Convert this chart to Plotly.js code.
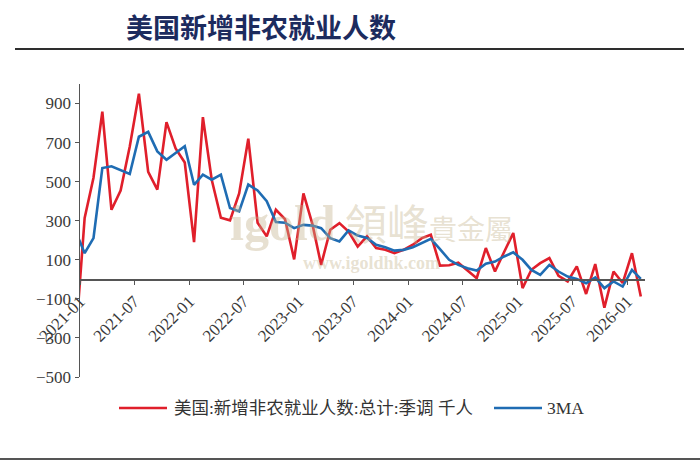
<!DOCTYPE html>
<html>
<head>
<meta charset="utf-8">
<script src="https://cdn.plot.ly/plotly-3.0.1.min.js"></script>
<style>
  html, body { margin: 0; padding: 0; background: #ffffff; }
  #chart { width: 700px; height: 468px; }
</style>
</head>
<body>
<div id="chart"></div>
<script>
// Months (points sit in the middle of each month, like the source chart)
const months = [
  '2020-12',
  '2021-01','2021-02','2021-03','2021-04','2021-05','2021-06','2021-07','2021-08','2021-09','2021-10','2021-11','2021-12',
  '2022-01','2022-02','2022-03','2022-04','2022-05','2022-06','2022-07','2022-08','2022-09','2022-10','2022-11','2022-12',
  '2023-01','2023-02','2023-03','2023-04','2023-05','2023-06','2023-07','2023-08','2023-09','2023-10','2023-11','2023-12',
  '2024-01','2024-02','2024-03','2024-04','2024-05','2024-06','2024-07','2024-08','2024-09','2024-10','2024-11','2024-12',
  '2025-01','2025-02','2025-03','2025-04','2025-05','2025-06','2025-07','2025-08','2025-09','2025-10','2025-11','2025-12',
  '2026-01','2026-02'
];

// 美国:新增非农就业人数:总计:季调 (千人)
const payrolls = [
  -330,
  314, 520, 858, 356, 455, 680, 950, 550, 459, 805, 670, 598,
  190, 830, 510, 315, 302, 440, 720, 290, 220, 356, 308, 102,
  440, 285, 74, 254, 288, 245, 168, 220, 160, 151, 134, 151,
  177, 211, 228, 70, 72, 85, 45, 6, 160, 40, 140, 237,
  -45, 49, 83, 109, 18, -11, 66, -75, 78, -145, 40, -19,
  134, -88
];

// 3MA
const ma3 = [
  250,
  134, 211, 570, 579, 561, 539, 730, 755, 655, 612, 647, 681,
  484, 536, 510, 536, 365, 348, 485, 455, 400, 293, 290, 262,
  279, 275, 262, 211, 194, 250, 224, 212, 177, 164, 147, 151,
  164, 186, 207, 155, 100, 74, 57, 45, 80, 91, 117, 138,
  100, 48, 23, 74, 40, 14, 2, -20, 10, -45, -11, -37,
  48, 2
];

const seriesNames = ['美国:新增非农就业人数:总计:季调 千人', '3MA'];
const seriesColors = ['#e01f2b', '#1f6cb3'];
const titleText = '美国新增非农就业人数';

const serif = '"Liberation Serif", "Noto Sans CJK SC", serif';

const traces = [
  {
    type: 'scatter', mode: 'lines', name: seriesNames[0],
    x: months, y: payrolls,
    xperiod: 'M1', xperiodalignment: 'middle',
    line: { color: seriesColors[0], width: 2.6 }
  },
  {
    type: 'scatter', mode: 'lines', name: seriesNames[1],
    x: months, y: ma3,
    xperiod: 'M1', xperiodalignment: 'middle',
    line: { color: seriesColors[1], width: 2.6 }
  }
];

// pixel -> paper helpers (plot area 80..645 x 84..377)
const PX = px => (px - 80) / 565;
const PY = py => (377 - py) / 293;

const wm = 'rgba(196,178,140,0.40)';
const watermark =
  '<span style="font-family:Liberation Serif;font-weight:bold;font-size:50px">igold</span>' +
  '<span style="font-size:42px"> 領峰</span><span style="font-size:28px">貴金屬</span>' +
  '<br><span style="font-family:Liberation Serif;font-weight:bold;font-size:18px">www.igoldhk.com</span>';

const layout = {
  width: 700, height: 468,
  paper_bgcolor: '#ffffff', plot_bgcolor: 'rgba(0,0,0,0)',
  margin: { l: 80, r: 55, t: 84, b: 91 },
  showlegend: false,
  title: {
    text: titleText,
    xref: 'container', yref: 'container',
    x: 126 / 700, xanchor: 'left',
    y: 1 - 29 / 468, yanchor: 'middle',
    font: { family: '"Noto Sans CJK SC", sans-serif', size: 27, color: '#1c2b5e', weight: 'bold' }
  },
  xaxis: {
    type: 'date',
    range: ['2021-01-01', '2026-03-01'],
    tick0: '2021-01-01', dtick: 'M6', tickformat: '%Y-%m',
    tickangle: -45,
    anchor: 'free', position: 1 / 3,
    showline: true, linecolor: '#555', linewidth: 1.5,
    ticks: 'outside', ticklen: 4, tickcolor: '#555',
    showgrid: false, zeroline: false,
    tickfont: { family: serif, size: 17, color: '#3a3a3a' }
  },
  yaxis: {
    range: [-500, 1000],
    tick0: -500, dtick: 200,
    showline: true, linecolor: '#555', linewidth: 1.5,
    ticks: 'outside', ticklen: 4, tickcolor: '#555',
    showgrid: false, zeroline: false,
    tickfont: { family: serif, size: 17, color: '#3a3a3a' }
  },
  shapes: [
    // title rule and bottom rule
    { type: 'line', xref: 'paper', yref: 'paper',
      x0: PX(15), x1: PX(684), y0: PY(49), y1: PY(49),
      line: { color: '#2e2e2e', width: 2 } },
    { type: 'line', xref: 'paper', yref: 'paper',
      x0: PX(0), x1: PX(700), y0: PY(459), y1: PY(459),
      line: { color: '#555', width: 2 } },
    // legend samples
    { type: 'line', xref: 'paper', yref: 'paper',
      x0: PX(119), x1: PX(167), y0: PY(408), y1: PY(408),
      line: { color: seriesColors[0], width: 2.6 } },
    { type: 'line', xref: 'paper', yref: 'paper',
      x0: PX(494), x1: PX(542), y0: PY(408), y1: PY(408),
      line: { color: seriesColors[1], width: 2.6 } }
  ],
  annotations: [
    { xref: 'paper', yref: 'paper', x: PX(172), y: PY(408), xanchor: 'left', yanchor: 'middle',
      text: seriesNames[0], showarrow: false,
      font: { family: serif, size: 17.5, color: '#333' } },
    { xref: 'paper', yref: 'paper', x: PX(545), y: PY(408), xanchor: 'left', yanchor: 'middle',
      text: seriesNames[1], showarrow: false,
      font: { family: serif, size: 17.5, color: '#333' } },
    { xref: 'paper', yref: 'paper', x: PX(371), y: PY(232), xanchor: 'center', yanchor: 'middle',
      text: watermark, showarrow: false, align: 'center',
      font: { family: '"Noto Sans CJK TC", sans-serif', size: 22, color: wm } }
  ]
};

Plotly.newPlot('chart', traces, layout, { displayModeBar: false, staticPlot: true });
</script>
</body>
</html>
